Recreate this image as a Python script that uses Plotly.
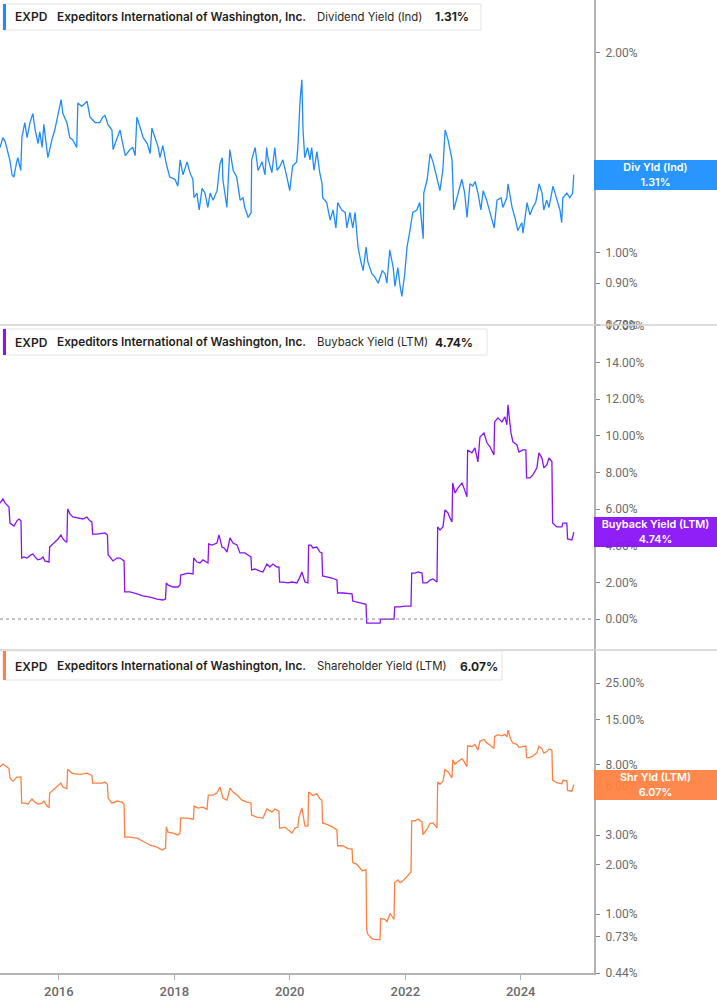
import math
import pandas as pd
import plotly.graph_objects as go
from plotly.subplots import make_subplots

# ---------------- DATA (dates as decimal years, values in %) ----------------
div_dates = [2014.98, 2015.03, 2015.07, 2015.10, 2015.15, 2015.19, 2015.22, 2015.27, 2015.29, 2015.34,
             2015.36, 2015.41, 2015.45, 2015.50, 2015.55, 2015.59, 2015.64, 2015.67, 2015.71, 2015.74,
             2015.79, 2015.81, 2015.88, 2015.93, 2015.97, 2016.04, 2016.07, 2016.14, 2016.19, 2016.24,
             2016.31, 2016.33, 2016.40, 2016.49, 2016.54, 2016.63, 2016.71, 2016.76, 2016.80, 2016.85,
             2016.92, 2016.94, 2017.01, 2017.06, 2017.09, 2017.15, 2017.23, 2017.28, 2017.32, 2017.35,
             2017.40, 2017.46, 2017.53, 2017.58, 2017.61, 2017.66, 2017.72, 2017.75, 2017.80, 2017.86,
             2017.92, 2018.01, 2018.06, 2018.10, 2018.15, 2018.22, 2018.27, 2018.32, 2018.34, 2018.39,
             2018.43, 2018.48, 2018.53, 2018.58, 2018.62, 2018.67, 2018.74, 2018.79, 2018.83, 2018.84,
             2018.91, 2018.96, 2019.02, 2019.08, 2019.14, 2019.19, 2019.22, 2019.28, 2019.33, 2019.34,
             2019.40, 2019.45, 2019.52, 2019.57, 2019.60, 2019.62, 2019.69, 2019.74, 2019.78, 2019.83,
             2019.88, 2019.95, 2020.00, 2020.05, 2020.12, 2020.14, 2020.18, 2020.21, 2020.23, 2020.26,
             2020.31, 2020.35, 2020.38, 2020.42, 2020.47, 2020.52, 2020.56, 2020.57, 2020.64, 2020.70,
             2020.75, 2020.80, 2020.83, 2020.90, 2020.96, 2020.99, 2021.04, 2021.09, 2021.13, 2021.16,
             2021.18, 2021.23, 2021.27, 2021.32, 2021.35, 2021.42, 2021.47, 2021.53, 2021.60, 2021.65,
             2021.68, 2021.73, 2021.79, 2021.82, 2021.87, 2021.91, 2021.94, 2021.99, 2022.03, 2022.08,
             2022.13, 2022.20, 2022.25, 2022.31, 2022.32, 2022.38, 2022.43, 2022.48, 2022.55, 2022.60,
             2022.65, 2022.69, 2022.74, 2022.81, 2022.84, 2022.91, 2022.98, 2023.03, 2023.07, 2023.12,
             2023.17, 2023.21, 2023.26, 2023.31, 2023.35, 2023.41, 2023.47, 2023.54, 2023.59, 2023.66,
             2023.69, 2023.76, 2023.78, 2023.85, 2023.90, 2023.95, 2024.02, 2024.04, 2024.11, 2024.16,
             2024.21, 2024.26, 2024.32, 2024.37, 2024.40, 2024.45, 2024.49, 2024.56, 2024.63, 2024.68,
             2024.71, 2024.73, 2024.80, 2024.85, 2024.90, 2024.92]
div_yield = [1.44, 1.49, 1.47, 1.44, 1.38, 1.31, 1.30, 1.37, 1.39, 1.33,
             1.49, 1.57, 1.49, 1.57, 1.62, 1.53, 1.46, 1.52, 1.44, 1.56,
             1.44, 1.39, 1.48, 1.53, 1.59, 1.70, 1.62, 1.57, 1.49, 1.48,
             1.44, 1.68, 1.66, 1.69, 1.60, 1.57, 1.57, 1.60, 1.61, 1.56,
             1.53, 1.43, 1.49, 1.53, 1.48, 1.40, 1.43, 1.44, 1.40, 1.60,
             1.55, 1.49, 1.46, 1.41, 1.54, 1.49, 1.44, 1.39, 1.45, 1.36,
             1.30, 1.29, 1.26, 1.38, 1.31, 1.37, 1.32, 1.29, 1.21, 1.23,
             1.16, 1.25, 1.23, 1.17, 1.23, 1.20, 1.24, 1.36, 1.39, 1.29,
             1.17, 1.43, 1.33, 1.30, 1.20, 1.21, 1.17, 1.13, 1.15, 1.38,
             1.44, 1.33, 1.37, 1.31, 1.44, 1.39, 1.32, 1.44, 1.33, 1.35,
             1.38, 1.30, 1.24, 1.35, 1.37, 1.44, 1.70, 1.82, 1.53, 1.39,
             1.44, 1.38, 1.44, 1.33, 1.42, 1.32, 1.27, 1.21, 1.19, 1.12,
             1.16, 1.09, 1.19, 1.16, 1.15, 1.09, 1.15, 1.09, 1.15, 1.07,
             1.02, 0.97, 0.94, 1.02, 0.97, 0.93, 0.92, 0.90, 0.94, 0.93,
             0.90, 1.01, 0.95, 0.89, 0.95, 0.89, 0.86, 0.93, 1.02, 1.08,
             1.15, 1.16, 1.19, 1.05, 1.23, 1.29, 1.41, 1.37, 1.30, 1.24,
             1.33, 1.53, 1.48, 1.38, 1.16, 1.23, 1.29, 1.23, 1.13, 1.27,
             1.26, 1.28, 1.23, 1.16, 1.24, 1.20, 1.15, 1.09, 1.20, 1.21,
             1.17, 1.21, 1.27, 1.17, 1.13, 1.08, 1.11, 1.07, 1.19, 1.14,
             1.17, 1.19, 1.27, 1.23, 1.16, 1.20, 1.17, 1.26, 1.20, 1.16,
             1.11, 1.21, 1.23, 1.21, 1.23, 1.31]

bb_dates = [2014.980, 2015.032, 2015.067, 2015.101, 2015.136, 2015.153, 2015.188, 2015.222, 2015.274, 2015.309,
            2015.344, 2015.356, 2015.396, 2015.448, 2015.517, 2015.552, 2015.604, 2015.638, 2015.690, 2015.725,
            2015.759, 2015.829, 2015.841, 2015.881, 2015.933, 2015.985, 2016.037, 2016.071, 2016.123, 2016.140,
            2016.153, 2016.192, 2016.244, 2016.314, 2016.366, 2016.418, 2016.487, 2016.539, 2016.573, 2016.586,
            2016.660, 2016.747, 2016.799, 2016.842, 2016.854, 2016.885, 2016.937, 2017.006, 2017.058, 2017.128,
            2017.140, 2017.232, 2017.318, 2017.353, 2017.457, 2017.578, 2017.699, 2017.803, 2017.846, 2017.859,
            2017.890, 2017.976, 2018.063, 2018.098, 2018.110, 2018.184, 2018.236, 2018.323, 2018.335, 2018.392,
            2018.444, 2018.496, 2018.565, 2018.583, 2018.595, 2018.652, 2018.738, 2018.773, 2018.825, 2018.860,
            2018.912, 2018.964, 2019.016, 2019.085, 2019.137, 2019.223, 2019.275, 2019.327, 2019.339, 2019.397,
            2019.483, 2019.535, 2019.604, 2019.656, 2019.708, 2019.778, 2019.812, 2019.824, 2019.882, 2019.968,
            2020.037, 2020.124, 2020.176, 2020.211, 2020.263, 2020.315, 2020.327, 2020.367, 2020.401, 2020.470,
            2020.522, 2020.557, 2020.569, 2020.644, 2020.730, 2020.817, 2020.829, 2020.921, 2021.007, 2021.077,
            2021.089, 2021.163, 2021.250, 2021.319, 2021.331, 2021.388, 2021.562, 2021.571, 2021.683, 2021.804,
            2021.816, 2021.908, 2021.995, 2022.099, 2022.111, 2022.168, 2022.220, 2022.289, 2022.306, 2022.376,
            2022.428, 2022.480, 2022.549, 2022.561, 2022.601, 2022.653, 2022.687, 2022.739, 2022.774, 2022.809,
            2022.821, 2022.861, 2022.913, 2022.982, 2023.016, 2023.068, 2023.080, 2023.155, 2023.207, 2023.259,
            2023.294, 2023.363, 2023.415, 2023.467, 2023.536, 2023.548, 2023.605, 2023.675, 2023.727, 2023.761,
            2023.779, 2023.831, 2023.865, 2023.934, 2023.969, 2024.038, 2024.090, 2024.102, 2024.160, 2024.212,
            2024.281, 2024.315, 2024.367, 2024.402, 2024.454, 2024.489, 2024.541, 2024.553, 2024.627, 2024.714,
            2024.731, 2024.800, 2024.812, 2024.887, 2024.922]
bb_yield = [6.32, 6.56, 6.34, 6.23, 6.12, 5.24, 5.14, 5.08, 5.36, 5.46,
            5.36, 3.33, 3.39, 3.33, 3.50, 3.55, 3.33, 3.23, 3.28, 3.39,
            3.17, 3.11, 3.93, 4.04, 4.21, 4.37, 4.59, 4.37, 4.21, 4.21,
            6.01, 5.74, 5.57, 5.52, 5.52, 5.46, 5.57, 5.36, 5.30, 4.64,
            4.64, 4.70, 4.70, 4.59, 3.50, 3.39, 3.17, 3.33, 3.33, 3.17,
            1.48, 1.48, 1.42, 1.37, 1.26, 1.20, 1.09, 1.04, 1.09, 1.97,
            1.86, 1.75, 1.75, 1.86, 2.40, 2.46, 2.51, 2.46, 3.33, 3.11,
            3.06, 3.23, 3.06, 3.06, 4.10, 4.04, 4.15, 4.59, 3.93, 3.88,
            3.66, 4.43, 4.15, 4.04, 3.61, 3.61, 3.50, 3.39, 2.68, 2.73,
            2.62, 2.57, 3.00, 2.84, 3.00, 2.84, 2.84, 2.02, 2.02, 1.97,
            2.02, 1.97, 2.30, 2.57, 2.02, 1.97, 4.04, 4.04, 3.88, 3.93,
            3.66, 3.61, 2.35, 2.30, 2.24, 2.13, 1.42, 1.42, 1.37, 1.37,
            0.98, 0.93, 0.87, 0.80, -0.22, -0.22, -0.22, 0.00, 0.00, 0.00,
            0.66, 0.66, 0.71, 0.71, 2.51, 2.51, 2.57, 2.51, 1.97, 1.97,
            2.13, 2.19, 2.02, 5.03, 4.86, 5.03, 5.96, 5.79, 5.52, 5.30,
            7.43, 6.88, 7.16, 7.43, 7.16, 6.67, 9.23, 9.07, 9.34, 8.58,
            9.94, 10.16, 9.62, 9.40, 8.96, 10.76, 10.98, 10.76, 11.04, 10.60,
            11.69, 10.16, 9.67, 9.51, 9.12, 9.23, 9.23, 7.70, 7.70, 7.87,
            8.25, 9.07, 8.80, 8.25, 8.42, 8.80, 8.60, 5.24, 5.03, 5.03,
            5.24, 5.24, 4.37, 4.32, 4.74]

sh_dates = [2014.980, 2015.032, 2015.101, 2015.136, 2015.153, 2015.205, 2015.274, 2015.344, 2015.356, 2015.413,
            2015.465, 2015.534, 2015.586, 2015.638, 2015.707, 2015.742, 2015.794, 2015.829, 2015.841, 2015.898,
            2015.967, 2016.037, 2016.071, 2016.140, 2016.153, 2016.227, 2016.314, 2016.400, 2016.487, 2016.573,
            2016.586, 2016.660, 2016.747, 2016.799, 2016.842, 2016.854, 2016.920, 2017.006, 2017.093, 2017.128,
            2017.140, 2017.232, 2017.353, 2017.457, 2017.578, 2017.699, 2017.786, 2017.846, 2017.859, 2017.890,
            2017.976, 2018.063, 2018.098, 2018.110, 2018.219, 2018.305, 2018.331, 2018.343, 2018.409, 2018.496,
            2018.565, 2018.588, 2018.669, 2018.738, 2018.790, 2018.842, 2018.912, 2018.964, 2019.016, 2019.085,
            2019.171, 2019.258, 2019.327, 2019.339, 2019.431, 2019.535, 2019.604, 2019.691, 2019.743, 2019.812,
            2019.824, 2019.916, 2020.037, 2020.089, 2020.141, 2020.159, 2020.211, 2020.263, 2020.315, 2020.327,
            2020.401, 2020.470, 2020.522, 2020.557, 2020.569, 2020.644, 2020.730, 2020.817, 2020.829, 2020.921,
            2021.007, 2021.077, 2021.089, 2021.163, 2021.250, 2021.319, 2021.331, 2021.354, 2021.423, 2021.475,
            2021.562, 2021.571, 2021.648, 2021.683, 2021.735, 2021.787, 2021.804, 2021.816, 2021.873, 2021.908,
            2021.943, 2021.995, 2022.047, 2022.099, 2022.111, 2022.168, 2022.220, 2022.289, 2022.306, 2022.376,
            2022.428, 2022.480, 2022.549, 2022.561, 2022.601, 2022.653, 2022.687, 2022.739, 2022.774, 2022.809,
            2022.821, 2022.861, 2022.913, 2022.982, 2023.016, 2023.068, 2023.080, 2023.155, 2023.207, 2023.259,
            2023.294, 2023.363, 2023.415, 2023.467, 2023.536, 2023.548, 2023.605, 2023.675, 2023.727, 2023.761,
            2023.779, 2023.831, 2023.865, 2023.934, 2023.969, 2024.038, 2024.090, 2024.102, 2024.160, 2024.212,
            2024.281, 2024.315, 2024.367, 2024.402, 2024.454, 2024.489, 2024.541, 2024.553, 2024.627, 2024.714,
            2024.731, 2024.800, 2024.812, 2024.887, 2024.922]
sh_yield = [7.76, 8.08, 7.76, 7.60, 6.65, 6.37, 6.74, 6.74, 4.69, 4.69,
            4.63, 4.97, 4.76, 4.63, 4.69, 4.83, 4.50, 4.40, 5.40, 5.63,
            5.87, 6.20, 5.87, 5.75, 7.53, 7.13, 7.03, 7.03, 7.13, 6.90,
            6.20, 6.20, 6.20, 6.29, 6.10, 5.03, 4.69, 4.83, 4.76, 4.60,
            2.92, 2.92, 2.88, 2.76, 2.61, 2.54, 2.44, 2.50, 3.36, 3.13,
            3.09, 3.01, 3.10, 3.81, 3.81, 3.76, 3.76, 4.50, 4.38, 4.44,
            4.30, 5.25, 5.25, 5.40, 5.87, 5.03, 4.89, 5.79, 5.47, 5.25,
            4.89, 4.76, 4.70, 3.97, 3.86, 3.81, 4.32, 4.14, 4.32, 4.20,
            3.31, 3.36, 3.09, 3.31, 3.36, 3.86, 4.39, 3.41, 3.40, 5.48,
            5.21, 5.35, 4.98, 4.88, 3.56, 3.49, 3.38, 3.23, 2.59, 2.59,
            2.49, 2.47, 2.05, 2.00, 1.83, 1.85, 0.80, 0.75, 0.71, 0.70,
            0.70, 0.94, 0.93, 0.90, 1.01, 0.95, 0.93, 1.55, 1.61, 1.55,
            1.57, 1.64, 1.73, 1.80, 3.66, 3.67, 3.76, 3.61, 3.02, 3.26,
            3.54, 3.56, 3.32, 6.30, 6.10, 6.36, 7.49, 7.27, 6.95, 6.68,
            8.59, 8.08, 8.39, 8.72, 8.41, 7.80, 10.43, 10.33, 10.62, 9.81,
            11.14, 11.38, 10.82, 10.55, 10.05, 11.90, 12.18, 11.97, 12.23, 11.81,
            12.96, 11.34, 10.83, 10.63, 10.20, 10.30, 10.38, 8.85, 8.84, 9.04,
            9.45, 10.34, 10.03, 9.41, 9.62, 9.97, 9.80, 6.46, 6.23, 6.14,
            6.45, 6.40, 5.60, 5.54, 6.07]

ticker = "EXPD"
company = "Expeditors International of Washington, Inc."
series_names = ["Dividend Yield (Ind)", "Buyback Yield (LTM)", "Shareholder Yield (LTM)"]
short_names = ["Div Yld (Ind)", "Buyback Yield (LTM)", "Shr Yld (LTM)"]
last_values = [1.31, 4.74, 6.07]
colors = ["#1e8cff", "#8a12f7", "#ff8040"]
box_colors = ["rgba(30,144,255,0.95)", "rgba(138,18,247,0.95)", "rgba(255,128,64,0.93)"]

div_ticks = [0.78, 0.90, 1.00, 2.00]
bb_ticks = [0, 2, 4, 6, 8, 10, 12, 14, 16]
sh_ticks = [0.44, 0.73, 1.00, 2.00, 3.00, 6.00, 8.00, 15.00, 25.00]
year_ticks = [2016, 2018, 2020, 2022, 2024]


def to_date(y):
    yr = int(math.floor(y))
    return pd.Timestamp(yr, 1, 1) + pd.Timedelta(days=(y - yr) * 365.25)


# ---------------- LAYOUT GEOMETRY ----------------
W, H = 717, 1005
MR, MB = 123, 32
PW, PH = W - MR, H - MB


def px(x):
    return x / PW


def py(y):
    return 1 - y / PH


fig = make_subplots(rows=3, cols=1, shared_xaxes=True, vertical_spacing=0)

dates = [[to_date(d) for d in div_dates], [to_date(d) for d in bb_dates], [to_date(d) for d in sh_dates]]
vals = [div_yield, bb_yield, sh_yield]
for i in range(3):
    fig.add_trace(go.Scatter(x=dates[i], y=vals[i], mode="lines",
                             line=dict(color=colors[i], width=1.3), showlegend=False,
                             hoverinfo="skip"), row=i + 1, col=1)

xr = [to_date(2014.98), to_date(2025.268)]
axis_grey = "#b3b3b3"
tick_font = dict(family="Roboto", size=12, color="#6b6b6b")

for i in range(1, 4):
    fig.update_xaxes(row=i, col=1, range=xr, showgrid=False, zeroline=False,
                     showline=(i == 3), linecolor=axis_grey, linewidth=2,
                     ticks="outside" if i == 3 else "", ticklen=5, tickcolor=axis_grey,
                     showticklabels=(i == 3),
                     tickvals=[pd.Timestamp(y, 1, 1) for y in year_ticks],
                     ticktext=[str(y) for y in year_ticks],
                     tickfont=dict(family="Roboto", size=13, color="#6b6b6b", weight=500))

common_y = dict(side="right", showgrid=False, zeroline=False, showline=True,
                linecolor=axis_grey, linewidth=2, ticks="outside", ticklen=4,
                tickcolor="#888", tickfont=tick_font, ticklabelstandoff=3)

fig.update_yaxes(row=1, col=1, type="log", range=[math.log10(0.7788), math.log10(2.40)],
                 tickvals=div_ticks, ticktext=[f"{v:.2f}%" for v in div_ticks],
                 domain=[py(325), 1], **common_y)
fig.update_yaxes(row=2, col=1, range=[-1.69, 16.05],
                 tickvals=bb_ticks, ticktext=[f"{v:.2f}%" for v in bb_ticks],
                 domain=[py(650), py(325)], **common_y)
fig.update_yaxes(row=3, col=1, type="log", range=[math.log10(0.44), math.log10(39.6)],
                 tickvals=sh_ticks, ticktext=[f"{v:.2f}%" for v in sh_ticks],
                 domain=[0, py(650)], **common_y)

shapes = []
# separators between panels
for yy in (325, 650):
    shapes.append(dict(type="line", xref="paper", yref="paper", x0=0, x1=W / PW,
                       y0=py(yy), y1=py(yy), line=dict(color="#d0d0d0", width=1.5)))
# zero dotted line in buyback panel
shapes.append(dict(type="line", xref="paper", yref="y2", x0=0, x1=1, y0=0, y1=0,
                   line=dict(color="#8a8a8a", width=1, dash="dot")))

# legend header boxes
headers = [(4, 30, 481), (329, 355, 487), (651, 680, 502)]
text_y = [17, 342, 666]
label_x = [(315, 433), (315, 433), (315, 458)]
annotations = []
for i, (y0, y1, xr_) in enumerate(headers):
    shapes.append(dict(type="rect", xref="paper", yref="paper", x0=px(3), x1=px(xr_),
                       y0=py(y1), y1=py(y0), line=dict(color="#e3e3e3", width=1),
                       fillcolor="white", layer="above"))
    shapes.append(dict(type="rect", xref="paper", yref="paper", x0=px(3), x1=px(6),
                       y0=py(y1), y1=py(y0), line=dict(width=0),
                       fillcolor=colors[i], layer="above"))
    ty = py(text_y[i])
    annotations.append(dict(text=ticker, x=px(13), y=ty, xref="paper", yref="paper",
                            xanchor="left", yanchor="middle", showarrow=False,
                            font=dict(family="Inter", size=12, color="#1f1f1f", weight=600)))
    annotations.append(dict(text=company, x=px(55), y=ty, xref="paper", yref="paper",
                            xanchor="left", yanchor="middle", showarrow=False,
                            font=dict(family="Inter", size=11.8, color="#1f1f1f", weight=600)))
    annotations.append(dict(text=series_names[i], x=px(label_x[i][0]), y=ty, xref="paper",
                            yref="paper", xanchor="left", yanchor="middle", showarrow=False,
                            font=dict(family="Inter", size=11.4, color="#2a2a2a", weight=400)))
    annotations.append(dict(text=f"{last_values[i]:.2f}%", x=px(label_x[i][1]), y=ty,
                            xref="paper", yref="paper", xanchor="left", yanchor="middle",
                            showarrow=False,
                            font=dict(family="Inter", size=12, color="#1f1f1f", weight=700)))

# right-side value boxes
yrefs = ["y", "y2", "y3"]
for i in range(3):
    yv = math.log10(last_values[i]) if i != 1 else last_values[i]
    annotations.append(dict(text=f"{short_names[i]}<br>{last_values[i]:.2f}%",
                            x=1, y=yv, xref="paper", yref=yrefs[i], xanchor="left",
                            yanchor="middle", showarrow=False, width=123, height=30,
                            bgcolor=box_colors[i], borderpad=0, borderwidth=0, align="center",
                            font=dict(family="Inter", size=10.8, color="white", weight=600)))

fig.update_layout(width=W, height=H, margin=dict(l=0, r=MR, t=0, b=MB, autoexpand=False),
                  paper_bgcolor="white", plot_bgcolor="white", shapes=shapes,
                  annotations=annotations, showlegend=False)

fig.write_html("out.html", config={"displayModeBar": False},
               post_script="document.body.style.margin='0';document.body.style.padding='0';")
